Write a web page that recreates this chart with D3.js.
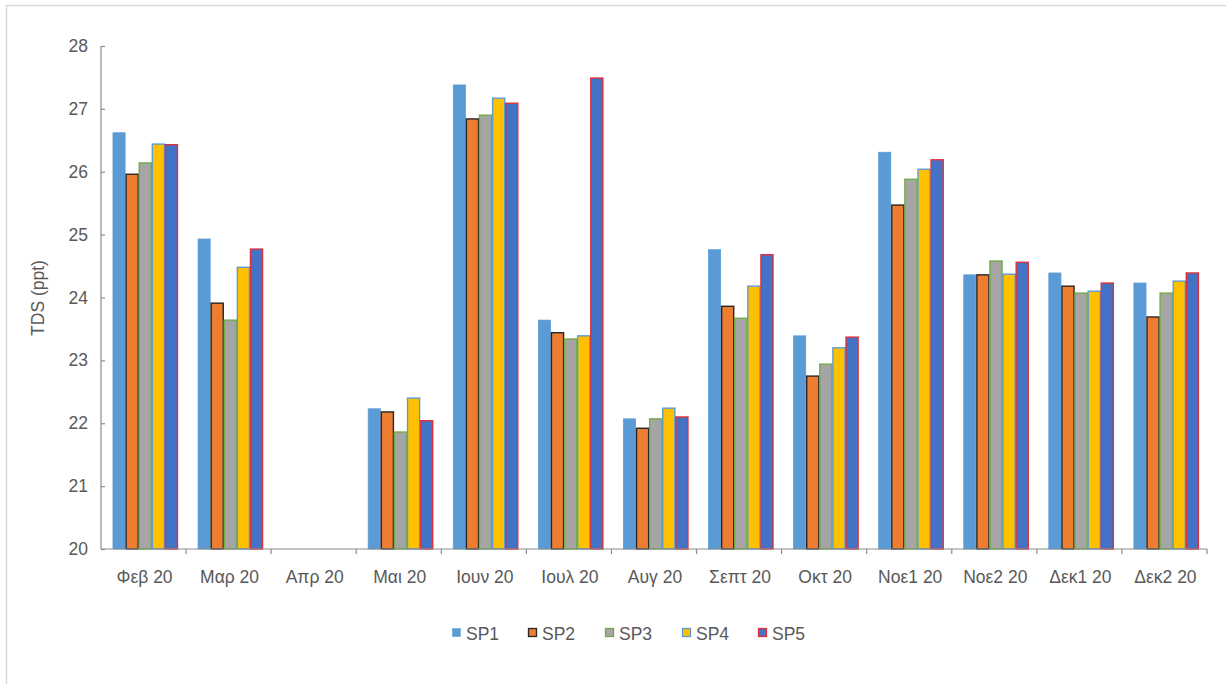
<!DOCTYPE html>
<html>
<head>
<meta charset="utf-8">
<script src="https://cdn.jsdelivr.net/npm/d3@7"></script>
<style>
  html, body { margin: 0; padding: 0; background: #fff; }
  svg { display: block; }
  text { font-family: "Liberation Sans", Arial, sans-serif; fill: #595959; }
</style>
</head>
<body>
<svg id="chart" width="1226" height="684"></svg>
<script>
// Sampling periods (months of 2020)
const categories = ["Φεβ 20", "Μαρ 20", "Απρ 20", "Μαι 20", "Ιουν 20", "Ιουλ 20", "Αυγ 20",
  "Σεπτ 20", "Οκτ 20", "Νοε1 20", "Νοε2 20", "Δεκ1 20", "Δεκ2 20"];

// TDS (ppt) per sampling point; null = no measurement
const sp1 = [26.62, 24.93, null, 22.23, 27.38, 23.64, 22.07, 24.76, 23.39, 26.31, 24.36, 24.39, 24.23];
const sp2 = [25.96, 23.91, null, 22.18, 26.84, 23.44, 21.92, 23.86, 22.75, 25.47, 24.36, 24.18, 23.69];
const sp3 = [26.14, 23.64, null, 21.86, 26.90, 23.34, 22.07, 23.67, 22.94, 25.88, 24.58, 24.07, 24.07];
const sp4 = [26.44, 24.48, null, 22.40, 27.17, 23.39, 22.24, 24.18, 23.20, 26.04, 24.37, 24.10, 24.26];
const sp5 = [26.43, 24.77, null, 22.04, 27.09, 27.49, 22.10, 24.68, 23.37, 26.19, 24.56, 24.23, 24.39];

const seriesNames = ["SP1", "SP2", "SP3", "SP4", "SP5"];
const yTicks = [20, 21, 22, 23, 24, 25, 26, 27, 28];

const fills   = ["#5B9BD5", "#ED7D31", "#A5A5A5", "#FFC000", "#4472C4"];
const strokes = ["#5B9BD5", "#262626", "#70AD47", "#5B9BD5", "#E0303A"];

const series = [sp1, sp2, sp3, sp4, sp5].map((vals, i) => ({ name: seriesNames[i], vals, i }));

const FONT = "17.5px";
const svg = d3.select("#chart");

// Chart area frame
svg.append("rect")
  .attr("x", 6.5).attr("y", 5.5).attr("width", 1240).attr("height", 700)
  .attr("fill", "none").attr("stroke", "#d9d9d9").attr("stroke-width", 1.5);

const plot = { left: 101, right: 1207, top: 46, bottom: 549 };

const x = d3.scaleBand().domain(categories).range([plot.left, plot.right]).padding(0);
const bw = x.bandwidth();
const xs = d3.scaleBand().domain(seriesNames)
  .range([bw * 0.135, bw * 0.905]).padding(0);

const y = d3.scaleLinear().domain([20, 28]).range([plot.bottom, plot.top]);

// Bars
const groups = svg.append("g").selectAll("g")
  .data(series).join("g");

groups.selectAll("rect")
  .data(s => s.vals.map((v, k) => ({ v, k, s })).filter(d => d.v !== null))
  .join("rect")
  .attr("x", d => x(categories[d.k]) + xs(d.s.name) + 0.5)
  .attr("y", d => y(d.v))
  .attr("width", xs.bandwidth() - 1)
  .attr("height", d => y(20) - y(d.v))
  .attr("fill", d => fills[d.s.i])
  .attr("stroke", d => strokes[d.s.i])
  .attr("stroke-width", d => d.s.i === 0 ? 0.8 : 1.4);

// Y axis
const yAxis = d3.axisLeft(y).tickValues(yTicks).tickSize(-4).tickPadding(13).tickFormat(d3.format("d"));
const gy = svg.append("g").attr("transform", `translate(${plot.left},0)`).call(yAxis);
gy.select(".domain").attr("stroke", "#8c8c8c").attr("stroke-width", 1.2).attr("d", `M0,${plot.top}V${plot.bottom}`);
gy.selectAll(".tick line").attr("stroke", "#8c8c8c").attr("stroke-width", 1.2);
gy.selectAll(".tick text").style("font-size", FONT).attr("fill", "#595959")
  .style("font-family", "'Liberation Sans', Arial, sans-serif");

// X axis line with ticks at category boundaries
const gx = svg.append("g");
gx.append("line")
  .attr("x1", plot.left).attr("x2", plot.right)
  .attr("y1", plot.bottom).attr("y2", plot.bottom)
  .attr("stroke", "#8c8c8c").attr("stroke-width", 1.2);
const bounds = categories.map(c => x(c) + bw);
gx.selectAll("line.tk").data(bounds).join("line").attr("class", "tk")
  .attr("x1", d => d).attr("x2", d => d)
  .attr("y1", plot.bottom).attr("y2", plot.bottom + 5)
  .attr("stroke", "#8c8c8c").attr("stroke-width", 1.2);
gx.selectAll("text").data(categories).join("text")
  .attr("x", d => x(d) + bw / 2 + 1)
  .attr("y", 583)
  .attr("text-anchor", "middle")
  .style("font-size", FONT)
  .text(d => d);

// Y axis title
svg.append("text")
  .attr("transform", `translate(44,298) rotate(-90)`)
  .attr("text-anchor", "middle")
  .style("font-size", FONT)
  .text("TDS (ppt)");

// Legend
const legendX = [452, 528, 605, 682, 758];
const lg = svg.append("g").selectAll("g").data(series).join("g")
  .attr("transform", (d, i) => `translate(${legendX[i]},633)`);
lg.append("rect")
  .attr("x", 0.5).attr("y", -4.5).attr("width", 8).attr("height", 8)
  .attr("fill", d => fills[d.i])
  .attr("stroke", d => strokes[d.i])
  .attr("stroke-width", d => d.i === 0 ? 0.5 : 1.3);
lg.append("text")
  .attr("x", 14).attr("y", 6.5)
  .style("font-size", FONT)
  .text(d => d.name);
</script>
</body>
</html>
